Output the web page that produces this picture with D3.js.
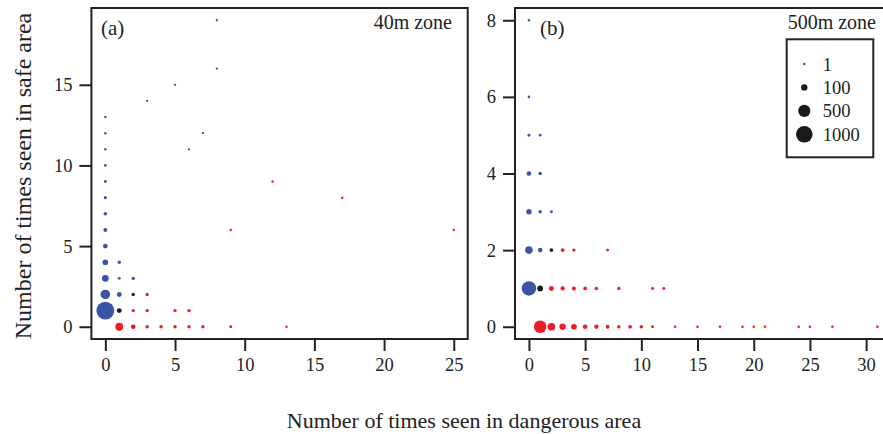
<!DOCTYPE html>
<html><head><meta charset="utf-8">
<script src="https://cdn.jsdelivr.net/npm/d3@7"></script>
<style>body{margin:0;background:#fff}svg{display:block}text{font-family:"Liberation Serif","DejaVu Serif",serif;fill:#222}</style>
</head><body>
<svg id="chart" width="883" height="434"></svg>
<script>
// Panel (a): 40m zone
const aDanger = [1,2,3,4,5,6,7,9,13, 0,1,2,3,5,6, 0,1,2,3, 0,1,2, 0,1, 0, 0,9,25, 0, 0,17, 0,12, 0, 0,6, 0,7, 0, 3, 5, 8, 8];
const aSafe   = [0,0,0,0,0,0,0,0,0, 1,1,1,1,1,1, 2,2,2,2, 3,3,3, 4,4, 5, 6,6,6, 7, 8,8, 9,9, 10, 11,11, 12,12, 13, 14, 15, 16, 19];
const aCount  = [173,43,17,17,17,14,14,8,3, 1190,49,14,14,14,14, 283,49,14,14, 123,8,14, 74,14, 43, 24,3,3, 17, 11,3, 8,3, 6, 3,2, 3,2, 3, 2, 2, 2, 2];
// Panel (b): 500m zone
const bDanger = [1,2,3,4,5,6,7,8,9,10,11,13,15,17,19,20,21,24,25,27,31, 0,1,2,3,4,5,6,8,11,12, 0,1,2,3,4,7, 0,1,2, 0,1, 0,1, 0, 0];
const bSafe   = [0,0,0,0,0,0,0,0,0,0,0,0,0,0,0,0,0,0,0,0,0, 1,1,1,1,1,1,1,1,1,1, 2,2,2,2,2,2, 3,3,3, 4,4, 5,5, 6, 8];
const bCount  = [529,162,97,74,43,33,24,14,20,17,8,5,5,5,5,5,5,5,5,5,5, 735,74,49,33,24,20,17,14,8,8, 162,38,20,24,14,8, 67,14,8, 43,17, 8,6, 4, 3];
// Axis ticks and labels
const aXTicks = [0,5,10,15,20,25];
const aYTicks = [0,5,10,15];
const bXTicks = [0,5,10,15,20,25,30];
const bYTicks = [0,2,4,6,8];
const legendValues = [1,100,500,1000];
const panelLabels = ["(a)","(b)"];
const zoneLabels = ["40m zone","500m zone"];
const xTitle = "Number of times seen in dangerous area";
const yTitle = "Number of times seen in safe area";

const BLUE = "#3a55a5", RED = "#ee1c25", BLACK = "#1a1a1a", INK = "#222";
const svg = d3.select("#chart");
const rScale = d3.scaleSqrt().domain([0,1000]).range([0.8,8.3]);
const colorOf = (x,y) => y > x ? BLUE : (x > y ? RED : BLACK);

function pad(lo, hi){ const e = (hi-lo)*0.04; return [lo-e, hi+e]; }

function panel(cfg){
  const g = svg.append("g");
  const x = d3.scaleLinear().domain(pad(0, d3.max(cfg.dx))).range([cfg.left, cfg.right]);
  const y = d3.scaleLinear().domain(pad(0, d3.max(cfg.sy))).range([339, 8]);
  const [x0,x1] = x.range(), [y0,y1] = y.range();
  g.append("rect").attr("x",x0).attr("y",y1).attr("width",x1-x0).attr("height",y0-y1)
    .attr("fill","none").attr("stroke",INK).attr("stroke-width",2);
  const xa = g.append("g").attr("transform",`translate(0,${y0})`)
    .call(d3.axisBottom(x).tickValues(cfg.xt).tickSize(12).tickPadding(7).tickFormat(d3.format("d")));
  const ya = g.append("g").attr("transform",`translate(${x0},0)`)
    .call(d3.axisLeft(y).tickValues(cfg.yt).tickSize(12).tickPadding(7).tickFormat(d3.format("d")));
  [xa,ya].forEach(a=>{
    a.select(".domain").remove();
    a.selectAll(".tick line").attr("stroke",INK).attr("stroke-width",2);
    a.selectAll(".tick text").attr("font-size",18.5).attr("fill","#333")
      .style("font-family",'"Liberation Serif",serif');
  });
  const data = cfg.dx.map((d,i)=>({d, s:cfg.sy[i], n:cfg.n[i]}))
    .sort((a,b)=>b.n-a.n);
  g.append("g").selectAll("circle").data(data).join("circle")
    .attr("cx",p=>x(p.d)).attr("cy",p=>y(p.s)).attr("r",p=>rScale(p.n))
    .attr("fill",p=>colorOf(p.d,p.s));
  g.append("text").attr("x",cfg.labelX).attr("y",35).attr("font-size",21).text(cfg.label);
  g.append("text").attr("x",cfg.zoneX).attr("y",29).attr("text-anchor","end").attr("font-size",20).text(cfg.zone);
  return {x,y};
}

panel({dx:aDanger, sy:aSafe, n:aCount, left:91.4, right:467.7, xt:aXTicks, yt:aYTicks, label:panelLabels[0], labelX:101, zone:zoneLabels[0], zoneX:452});
panel({dx:bDanger, sy:bSafe, n:bCount, left:515, right:891.3, xt:bXTicks, yt:bYTicks, label:panelLabels[1], labelX:540, zone:zoneLabels[1], zoneX:876});

// legend
const lg = svg.append("g");
lg.append("rect").attr("x",786.7).attr("y",39.3).attr("width",86.6).attr("height",118)
  .attr("fill","#fff").attr("stroke",INK).attr("stroke-width",2);
const ly = d3.scalePoint().domain(legendValues).range([64,134.3]);
legendValues.forEach(v=>{
  lg.append("circle").attr("cx",804.3).attr("cy",ly(v)).attr("r",rScale(v)).attr("fill",BLACK);
  lg.append("text").attr("x",822.7).attr("y",ly(v)+6.5).attr("font-size",18.5).text(v);
});

// axis titles
svg.append("text").attr("x",464).attr("y",428).attr("text-anchor","middle").attr("font-size",22).text(xTitle);
svg.append("text").attr("transform","translate(31,176) rotate(-90)").attr("text-anchor","middle").attr("font-size",24).text(yTitle);
</script>
</body></html>
